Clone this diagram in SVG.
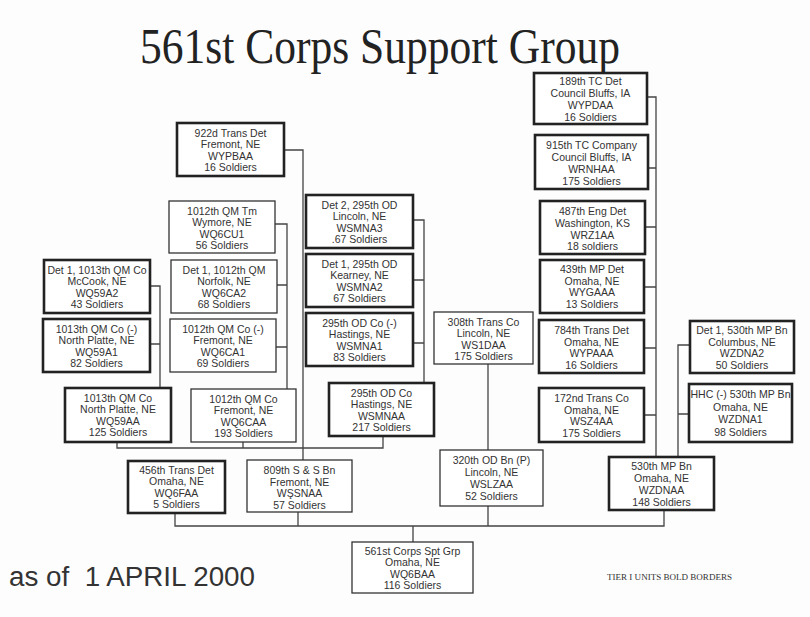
<svg xmlns="http://www.w3.org/2000/svg" width="810" height="617" viewBox="0 0 810 617">
<style>
.bg{fill:#fdfdfd}
.box{fill:#ffffff;stroke:#333;stroke-width:1.3}
.bold{stroke:#222;stroke-width:2.6}
.lbl{font-family:"Liberation Sans",Arial,sans-serif;font-size:10.5px;fill:#333;text-anchor:middle}
.con{fill:none;stroke:#444;stroke-width:1.3}
.title{font-family:"Liberation Serif","Times New Roman",serif;font-size:50px;fill:#222}
.date{font-family:"Liberation Sans",Arial,sans-serif;font-size:27px;fill:#333}
.note{font-family:"Liberation Serif","Times New Roman",serif;font-size:8.5px;fill:#333}
</style>
<rect class="bg" x="0" y="0" width="810" height="617"/>
<text class="title" x="140" y="63" textLength="480" lengthAdjust="spacingAndGlyphs">561st Corps Support Group</text>
<text class="date" x="9" y="586" textLength="246" lengthAdjust="spacingAndGlyphs">as of&#160; 1 APRIL 2000</text>
<text class="note" x="607" y="580" textLength="125" lengthAdjust="spacingAndGlyphs">TIER I UNITS BOLD BORDERS</text>

<g id="connectors">
<path class="con" d="M284,150 H303 V460"/>
<path class="con" d="M150,286 H160 V388 M150,344 H160"/>
<path class="con" d="M275,224 H287 V389 M277,285 H287 M276,347 H287"/>
<path class="con" d="M117,442 V448 H383 V436 M243,442 V448"/>
<path class="con" d="M413,220 H424 V383 M413,280 H424 M413,343 H424"/>
<path class="con" d="M488,364 V450"/>
<path class="con" d="M647,97 H656 V457 M648,168 H656 M645,227 H656 M644,287 H656 M644,348 H656 M644,415 H656"/>
<path class="con" d="M690,345 H678 V457 M689,414 H678"/>
<path class="con" d="M175,513 V526 H664 V510 M298,512 V526 M488,506 V526 M413,526 V542"/>
</g>

<g id="n922"><rect class="box bold" x="177" y="123" width="107" height="53"/>
<text class="lbl" x="230.5" y="137">922d Trans Det</text><text class="lbl" x="230.5" y="148.3">Fremont, NE</text><text class="lbl" x="230.5" y="159.6">WYPBAA</text><text class="lbl" x="230.5" y="170.9">16 Soldiers</text></g>

<g id="n1012tm"><rect class="box" x="169" y="201" width="106" height="52"/>
<text class="lbl" x="222" y="215">1012th QM Tm</text><text class="lbl" x="222" y="226.3">Wymore, NE</text><text class="lbl" x="222" y="237.6">WQ6CU1</text><text class="lbl" x="222" y="248.9">56 Soldiers</text></g>

<g id="n1012d1"><rect class="box" x="171" y="260" width="106" height="53"/>
<text class="lbl" x="224" y="274">Det 1, 1012th QM</text><text class="lbl" x="224" y="285.3">Norfolk, NE</text><text class="lbl" x="224" y="296.6">WQ6CA2</text><text class="lbl" x="224" y="307.9">68 Soldiers</text></g>

<g id="n1012m"><rect class="box" x="170" y="319" width="106" height="53"/>
<text class="lbl" x="223" y="333">1012th QM Co (-)</text><text class="lbl" x="223" y="344.3">Fremont, NE</text><text class="lbl" x="223" y="355.6">WQ6CA1</text><text class="lbl" x="223" y="366.9">69 Soldiers</text></g>

<g id="n1012co"><rect class="box" x="191" y="389" width="105" height="53"/>
<text class="lbl" x="243.5" y="403">1012th QM Co</text><text class="lbl" x="243.5" y="414.3">Fremont, NE</text><text class="lbl" x="243.5" y="425.6">WQ6CAA</text><text class="lbl" x="243.5" y="436.9">193 Soldiers</text></g>

<g id="n1013d1"><rect class="box bold" x="44" y="260" width="106" height="53"/>
<text class="lbl" x="97" y="274">Det 1, 1013th QM Co</text><text class="lbl" x="97" y="285.3">McCook, NE</text><text class="lbl" x="97" y="296.6">WQ59A2</text><text class="lbl" x="97" y="307.9">43 Soldiers</text></g>

<g id="n1013m"><rect class="box bold" x="43" y="319" width="107" height="53"/>
<text class="lbl" x="96.5" y="333">1013th QM Co (-)</text><text class="lbl" x="96.5" y="344.3">North Platte, NE</text><text class="lbl" x="96.5" y="355.6">WQ59A1</text><text class="lbl" x="96.5" y="366.9">82 Soldiers</text></g>

<g id="n1013co"><rect class="box bold" x="65" y="388" width="106" height="54"/>
<text class="lbl" x="118" y="402">1013th QM Co</text><text class="lbl" x="118" y="413.3">North Platte, NE</text><text class="lbl" x="118" y="424.6">WQ59AA</text><text class="lbl" x="118" y="435.9">125 Soldiers</text></g>

<g id="n295d2"><rect class="box bold" x="306" y="195" width="107" height="53"/>
<text class="lbl" x="359.5" y="209">Det 2, 295th OD</text><text class="lbl" x="359.5" y="220.3">Lincoln, NE</text><text class="lbl" x="359.5" y="231.6">WSMNA3</text><text class="lbl" x="359.5" y="242.9">.67 Soldiers</text></g>

<g id="n295d1"><rect class="box bold" x="306" y="254" width="107" height="53"/>
<text class="lbl" x="359.5" y="268">Det 1, 295th OD</text><text class="lbl" x="359.5" y="279.3">Kearney, NE</text><text class="lbl" x="359.5" y="290.6">WSMNA2</text><text class="lbl" x="359.5" y="301.9">67 Soldiers</text></g>

<g id="n295m"><rect class="box bold" x="306" y="313" width="107" height="53"/>
<text class="lbl" x="359.5" y="327">295th OD Co (-)</text><text class="lbl" x="359.5" y="338.3">Hastings, NE</text><text class="lbl" x="359.5" y="349.6">WSMNA1</text><text class="lbl" x="359.5" y="360.9">83 Soldiers</text></g>

<g id="n295co"><rect class="box bold" x="329" y="383" width="105" height="53"/>
<text class="lbl" x="381.5" y="397">295th OD Co</text><text class="lbl" x="381.5" y="408.3">Hastings, NE</text><text class="lbl" x="381.5" y="419.6">WSMNAA</text><text class="lbl" x="381.5" y="430.9">217 Soldiers</text></g>

<g id="n308"><rect class="box" x="434" y="312" width="99" height="52"/>
<text class="lbl" x="483.5" y="326">308th Trans Co</text><text class="lbl" x="483.5" y="337.3">Lincoln, NE</text><text class="lbl" x="483.5" y="348.6">WS1DAA</text><text class="lbl" x="483.5" y="359.9">175 Soldiers</text></g>

<g id="n320"><rect class="box" x="440" y="450" width="103" height="56"/>
<text class="lbl" x="491.5" y="464">320th OD Bn (P)</text><text class="lbl" x="491.5" y="476">Lincoln, NE</text><text class="lbl" x="491.5" y="488">WSLZAA</text><text class="lbl" x="491.5" y="500">52 Soldiers</text></g>

<g id="n189"><rect class="box bold" x="534" y="73" width="113" height="51"/>
<text class="lbl" x="590.5" y="85">189th TC Det</text><text class="lbl" x="590.5" y="97">Council Bluffs, IA</text><text class="lbl" x="590.5" y="109">WYPDAA</text><text class="lbl" x="590.5" y="121">16 Soldiers</text></g>

<g id="n915"><rect class="box bold" x="535" y="135" width="113" height="54"/>
<text class="lbl" x="591.5" y="149">915th TC Company</text><text class="lbl" x="591.5" y="161">Council Bluffs, IA</text><text class="lbl" x="591.5" y="173">WRNHAA</text><text class="lbl" x="591.5" y="185">175 Soldiers</text></g>

<g id="n487"><rect class="box bold" x="540" y="201" width="105" height="53"/>
<text class="lbl" x="592.5" y="215">487th Eng Det</text><text class="lbl" x="592.5" y="226.8">Washington, KS</text><text class="lbl" x="592.5" y="238.6">WRZ1AA</text><text class="lbl" x="592.5" y="250.4">18 soldiers</text></g>

<g id="n439"><rect class="box bold" x="540" y="260" width="104" height="53"/>
<text class="lbl" x="592" y="273">439th MP Det</text><text class="lbl" x="592" y="284.6">Omaha, NE</text><text class="lbl" x="592" y="296.2">WYGAAA</text><text class="lbl" x="592" y="307.8">13 Soldiers</text></g>

<g id="n784"><rect class="box bold" x="539" y="320" width="105" height="53"/>
<text class="lbl" x="591.5" y="334">784th Trans Det</text><text class="lbl" x="591.5" y="345.6">Omaha, NE</text><text class="lbl" x="591.5" y="357.2">WYPAAA</text><text class="lbl" x="591.5" y="368.8">16 Soldiers</text></g>

<g id="n172"><rect class="box bold" x="539" y="388" width="105" height="54"/>
<text class="lbl" x="591.5" y="402">172nd Trans Co</text><text class="lbl" x="591.5" y="413.6">Omaha, NE</text><text class="lbl" x="591.5" y="425.2">WSZ4AA</text><text class="lbl" x="591.5" y="436.8">175 Soldiers</text></g>

<g id="n530d1"><rect class="box bold" x="690" y="321" width="104" height="52"/>
<text class="lbl" x="742" y="334">Det 1, 530th MP Bn</text><text class="lbl" x="742" y="345.6">Columbus, NE</text><text class="lbl" x="742" y="357.2">WZDNA2</text><text class="lbl" x="742" y="368.8">50 Soldiers</text></g>

<g id="n530hhc"><rect class="box bold" x="689" y="384" width="103" height="58"/>
<text class="lbl" x="740.5" y="398" textLength="100" lengthAdjust="spacingAndGlyphs">HHC (-) 530th MP Bn</text><text class="lbl" x="740.5" y="410.6">Omaha, NE</text><text class="lbl" x="740.5" y="423.2">WZDNA1</text><text class="lbl" x="740.5" y="435.8">98 Soldiers</text></g>

<g id="n530"><rect class="box bold" x="609" y="457" width="105" height="53"/>
<text class="lbl" x="661.5" y="470">530th MP Bn</text><text class="lbl" x="661.5" y="482">Omaha, NE</text><text class="lbl" x="661.5" y="494">WZDNAA</text><text class="lbl" x="661.5" y="506">148 Soldiers</text></g>

<g id="n456"><rect class="box bold" x="128" y="461" width="97" height="52"/>
<text class="lbl" x="176.5" y="474">456th Trans Det</text><text class="lbl" x="176.5" y="485.3">Omaha, NE</text><text class="lbl" x="176.5" y="496.6">WQ6FAA</text><text class="lbl" x="176.5" y="507.9">5 Soldiers</text></g>

<g id="n809"><rect class="box" x="247" y="460" width="105" height="52"/>
<text class="lbl" x="299.5" y="474">809th S &amp; S Bn</text><text class="lbl" x="299.5" y="485.5">Fremont, NE</text><text class="lbl" x="299.5" y="497">WŞSNAA</text><text class="lbl" x="299.5" y="508.5">57 Soldiers</text></g>

<g id="n561"><rect class="box" x="352" y="542" width="121" height="51"/>
<text class="lbl" x="412.5" y="555">561st Corps Spt Grp</text><text class="lbl" x="412.5" y="566.3">Omaha, NE</text><text class="lbl" x="412.5" y="577.6">WQ6BAA</text><text class="lbl" x="412.5" y="588.9">116 Soldiers</text></g>
</svg>
